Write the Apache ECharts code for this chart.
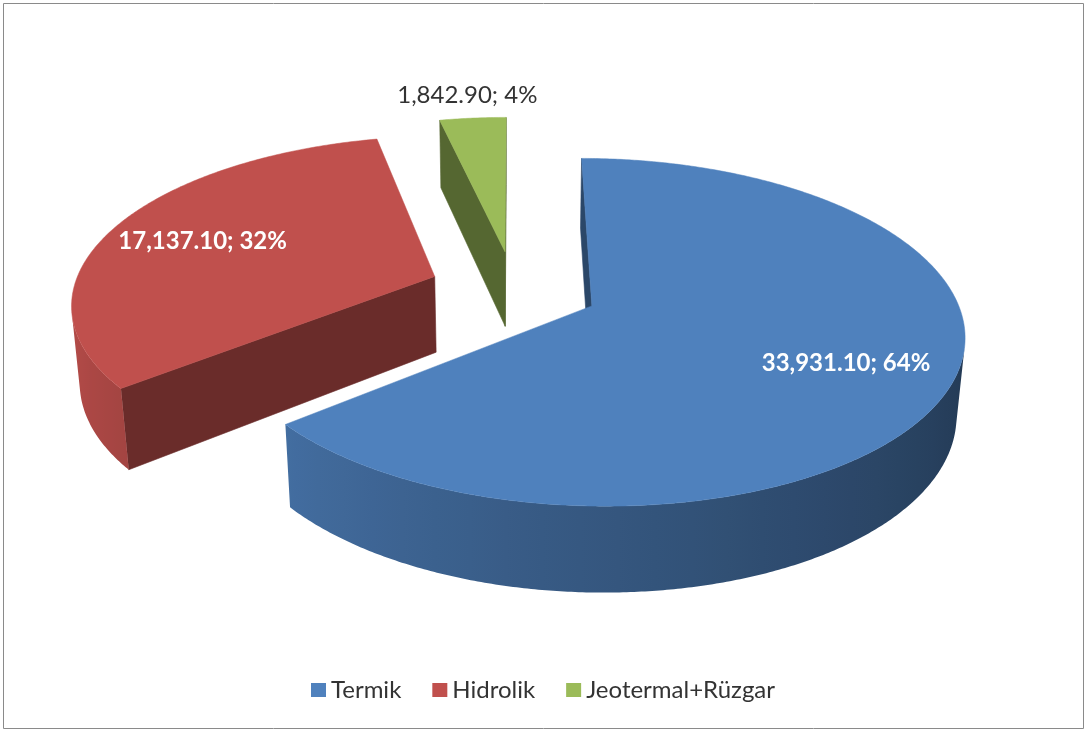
<!DOCTYPE html>
<html><head><meta charset="utf-8">
<script src="https://cdn.jsdelivr.net/npm/echarts@6/dist/echarts.min.js"></script>
<style>html,body{margin:0;padding:0;background:#fff}#c{width:1086px;height:731px}</style>
</head><body><div id="c"></div>
<script>
const categories = ['Termik', 'Hidrolik', 'Jeotermal+Rüzgar'];
const values = [33931.10, 17137.10, 1842.90];
const percentLabels = [64, 32, 4];
const colors = ['#4F81BD', '#C0504D', '#9BBB59'];

const total = values.reduce((a, b) => a + b, 0);
const starts = [], ends = [];
let acc = 0;
values.forEach(v => { starts.push(acc / total * Math.PI * 2); acc += v; ends.push(acc / total * Math.PI * 2); });

const VIEW = { cx: 514, cy: 289, f: 2150, D: 5.95, sa: 0.456, ca: 0.89, H: 0.242, explode: 0.235 };
function proj(X, Y, Z) {
  const d = VIEW.D + Z * VIEW.ca - Y * VIEW.sa;
  const v = Y * VIEW.ca + Z * VIEW.sa;
  return [VIEW.cx + VIEW.f * X / d, VIEW.cy - VIEW.f * v / d];
}
const cam = [0, VIEW.D * VIEW.sa, -VIEW.D * VIEW.ca];
function visible(n, p) {
  return n[0] * (cam[0] - p[0]) + n[1] * (cam[1] - p[1]) + n[2] * (cam[2] - p[2]) > 0;
}
function shade(hex, k) {
  const n = parseInt(hex.slice(1), 16);
  const r = (n >> 16) & 255, g = (n >> 8) & 255, b = n & 255;
  return 'rgb(' + Math.round(r * k) + ',' + Math.round(g * k) + ',' + Math.round(b * k) + ')';
}
function wallShade(t) {
  const deg = t * 180 / Math.PI;
  const u = Math.min(1, Math.max(0, (deg - 90) / 160));
  return 0.42 + 0.5 * Math.pow(u, 1.2);
}
function fmt(v) { return v.toLocaleString('en-US', { minimumFractionDigits: 2, maximumFractionDigits: 2 }); }

function renderSlice(params, api) {
  const i = api.value(1);
  const a = starts[i], b = ends[i], m = (a + b) / 2;
  const col = colors[i];
  const ex = VIEW.explode * Math.sin(m), ez = VIEW.explode * Math.cos(m);
  const H = VIEW.H;
  const rim = (t, y) => [ex + Math.sin(t), y, ez + Math.cos(t)];
  const P = p => proj(p[0], p[1], p[2]);
  const children = [];
  const apexT = [ex, 0, ez], apexB = [ex, -H, ez];
  // radial walls
  const walls = [
    { t: a, n: [-Math.cos(a), 0, Math.sin(a)] },
    { t: b, n: [Math.cos(b), 0, -Math.sin(b)] }
  ];
  walls.forEach(w => {
    const mid = [ex + 0.5 * Math.sin(w.t), -H / 2, ez + 0.5 * Math.cos(w.t)];
    if (visible(w.n, mid)) {
      const c = shade(col, 0.55);
      children.push({ type: 'polygon', shape: { points: [P(apexT), P(rim(w.t, 0)), P(rim(w.t, -H)), P(apexB)] },
        style: { fill: c, stroke: c, lineWidth: 0.6 } });
    }
  });
  // outer wall: visible arc as one polygon with horizontal gradient
  const N = Math.max(6, Math.ceil((b - a) / (Math.PI / 360)));
  const vis = [];
  for (let k = 0; k <= N; k++) {
    const t = a + (b - a) * k / N;
    if (visible([Math.sin(t), 0, Math.cos(t)], rim(t, -H / 2))) vis.push(t);
  }
  if (vis.length > 1) {
    const topPts = vis.map(t => P(rim(t, 0)));
    const botPts = vis.map(t => P(rim(t, -H))).reverse();
    const xs = topPts.map(p => p[0]);
    const minX = Math.min.apply(null, xs), maxX = Math.max.apply(null, xs);
    const stops = [];
    const step = Math.max(1, Math.floor(vis.length / 24));
    for (let k = 0; k < vis.length; k += step) {
      stops.push({ offset: (topPts[k][0] - minX) / (maxX - minX || 1), color: shade(col, wallShade(vis[k])) });
    }
    stops.push({ offset: (topPts[vis.length - 1][0] - minX) / (maxX - minX || 1), color: shade(col, wallShade(vis[vis.length - 1])) });
    stops.sort((p, q) => p.offset - q.offset);
    const grad = new echarts.graphic.LinearGradient(0, 0, 1, 0, stops);
    children.push({ type: 'polygon', shape: { points: topPts.concat(botPts) },
      style: { fill: grad } });
  }
  // top face
  const pts = [P(apexT)];
  for (let k = 0; k <= N; k++) pts.push(P(rim(a + (b - a) * k / N, 0)));
  children.push({ type: 'polygon', shape: { points: pts }, style: { fill: col, stroke: col, lineWidth: 0.5 } });
  // label
  const share = values[i] / total;
  const inside = share > 0.1;
  const r = inside ? 0.72 : 1.2;
  const lp = proj(ex + r * Math.sin(m), 0, ez + r * Math.cos(m));
  children.push({ type: 'text', x: lp[0], y: lp[1] + (inside ? 2 : 0), z2: 10,
    style: { text: fmt(values[i]) + '; ' + percentLabels[i] + '%', fill: inside ? '#ffffff' : '#333333',
      fontFamily: 'Lato', fontSize: 24, fontWeight: inside ? 'bold' : 'normal',
      align: 'center', verticalAlign: 'middle' } });
  return { type: 'group', children: children };
}

const chart = echarts.init(document.getElementById('c'), null, { renderer: 'canvas' });
chart.setOption({
  animation: false,
  backgroundColor: '#ffffff',
  graphic: [{ type: 'rect', shape: { x: 3.5, y: 3.5, width: 1080, height: 725 },
    style: { fill: 'none', stroke: '#8a8a8a', lineWidth: 1 }, z: 0, silent: true }],
  legend: {
    data: categories, top: 673, left: 'center', icon: 'rect', itemWidth: 15, itemHeight: 14, itemGap: 31,
    textStyle: { fontFamily: 'Lato', fontSize: 24, color: '#333333' }, selectedMode: false
  },
  series: categories.map((name, i) => ({
    type: 'custom', name: name, coordinateSystem: 'none', z: 4 - i, silent: true,
    itemStyle: { color: colors[i] },
    data: [[values[i], i]],
    renderItem: renderSlice
  }))
});
</script></body></html>
